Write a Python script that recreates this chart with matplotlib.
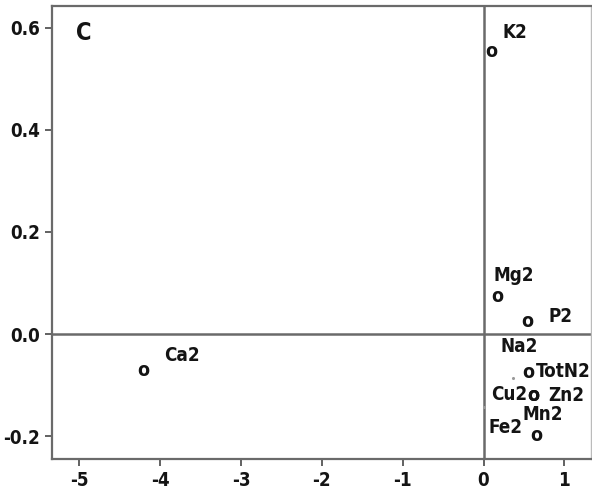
import matplotlib
matplotlib.use("Agg")
from matplotlib import pyplot as plt

# variable names and their biplot coordinates
names = ['K2', 'Mg2', 'P2', 'Ca2', 'TotN2', 'Cu2', 'Zn2', 'Mn2']
xs = [0.09, 0.17, 0.54, -4.21, 0.55, 0.62, 0.62, 0.65]
ys = [0.553, 0.073, 0.024, -0.071, -0.075, -0.12, -0.12, -0.198]

# points drawn as small dots
dot_names = ['Na2', 'Fe2']
dot_xs = [0.36, 0.0]
dot_ys = [-0.086, -0.143]

xticks = [-5, -4, -3, -2, -1, 0, 1]
yticks = [-0.2, 0.0, 0.2, 0.4, 0.6]

# label offsets in pixels (dx, dy)
offsets = {'K2': (24, 19), 'Mg2': (16, 21), 'P2': (33, 5), 'Ca2': (39, 15),
           'TotN2': (35, 1), 'Cu2': (-24, 1), 'Zn2': (33, 0), 'Mn2': (7, 21),
           'Na2': (7, 31), 'Fe2': (22, -21)}

plt.rcParams['font.family'] = ['DejaVu Sans']
plt.rcParams['font.stretch'] = 'condensed'
plt.rcParams['font.weight'] = 'bold'
txtcol = '#141414'


def DrawBiplot():
    fig = plt.figure(figsize=(5.92, 4.95), dpi=100)
    ax = fig.add_axes([52 / 592, 36 / 495, 1 - 52 / 592 - 1 / 592, 453 / 495])
    ax.set_xlim(-5.337, 1.329)
    ax.set_ylim(-0.245, 0.643)

    ax.axhline(0, color='#6a6a6a', lw=1.8, zorder=1)
    ax.axvline(0, color='#6a6a6a', lw=1.8, zorder=1)

    for n, x, y in zip(names, xs, ys):
        ax.text(x, y, 'o', ha='center', va='center', fontsize=14,
                fontweight='bold', color=txtcol, zorder=3)
        dx, dy = offsets[n]
        ax.annotate(n, (x, y), xytext=(dx, dy), textcoords='offset pixels',
                    ha='center', va='center', fontsize=13.5, fontweight='bold',
                    color=txtcol, zorder=3)
    ax.scatter(dot_xs, dot_ys, s=1.5, color='#999999', zorder=2)
    for n, x, y in zip(dot_names, dot_xs, dot_ys):
        dx, dy = offsets[n]
        ax.annotate(n, (x, y), xytext=(dx, dy), textcoords='offset pixels',
                    ha='center', va='center', fontsize=13.5, fontweight='bold',
                    color=txtcol, zorder=3)

    ax.text(0.045, 0.94, 'C', transform=ax.transAxes, fontsize=17,
            fontweight='bold', color=txtcol, ha='left', va='center')

    ax.set_xticks(xticks)
    ax.set_xticklabels([str(t) for t in xticks])
    ax.set_yticks(yticks)
    ax.set_yticklabels(['%.1f' % t for t in yticks])
    ax.tick_params(labelsize=13.5, colors='#555555', labelcolor=txtcol,
                   length=5, width=1.3)
    for t in ax.get_xticklabels() + ax.get_yticklabels():
        t.set_fontweight('bold')

    for s in ['left', 'bottom', 'top']:
        ax.spines[s].set_color('#6a6a6a')
        ax.spines[s].set_linewidth(1.6)
    ax.spines['right'].set_color('#bbbbbb')
    ax.spines['right'].set_linewidth(1.0)

    fig.savefig('out.png', dpi=100)


if __name__ == "__main__":
    DrawBiplot()
